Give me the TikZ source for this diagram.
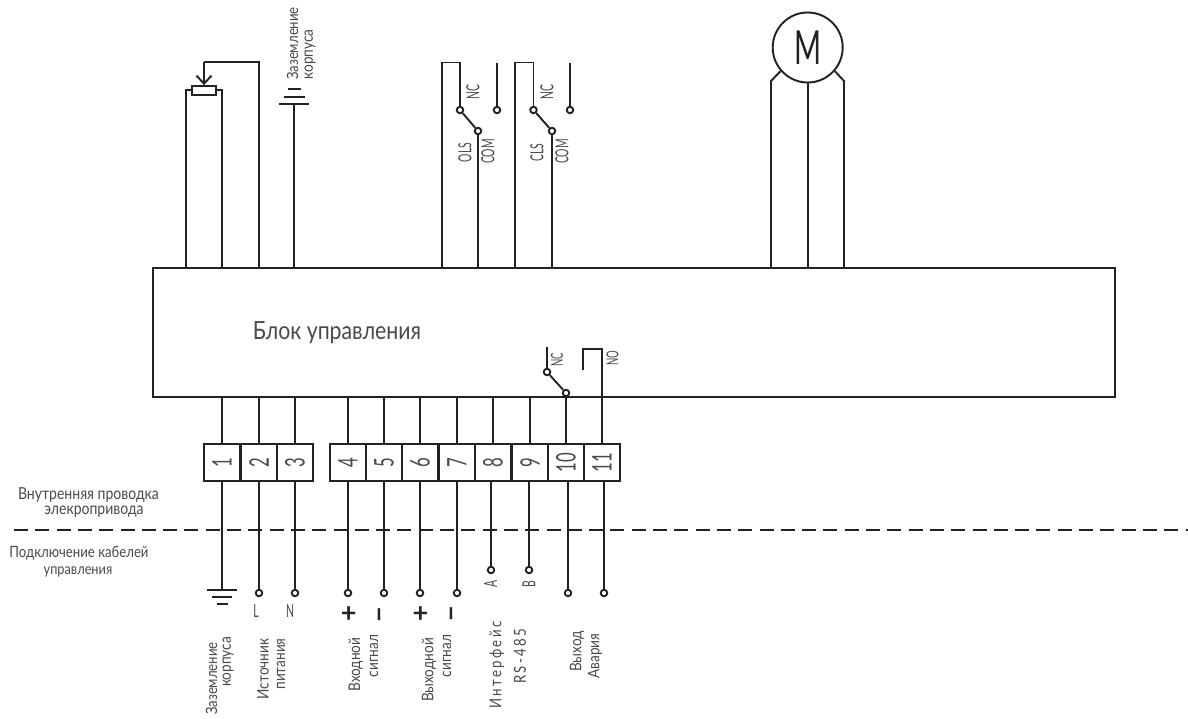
\documentclass[tikz,border=0pt]{standalone}
\usepackage{fontspec}
\setmainfont[FakeStretch=0.85]{Lato}
\newfontfamily\numfont[FakeStretch=0.62]{Lato}
\newfontfamily\tallfont[FakeStretch=0.58]{Lato}
\newfontfamily\spacedfont[FakeStretch=0.8,LetterSpace=14]{Lato}
\newfontfamily\signfont{Lato}
\usetikzlibrary{arrows.meta}
\definecolor{ln}{HTML}{222222}
\definecolor{txt}{HTML}{4A4A4A}
\tikzset{
  wire/.style={draw=ln,line width=1.9pt,line join=miter},
  lbl/.style={inner sep=0pt,text=txt,font=\fontsize{16}{18}\selectfont},
  rot/.style={lbl,rotate=90},
  tallrot/.style={rot,font=\tallfont\fontsize{18}{20}\selectfont},
  term/.style={draw=ln,line width=1.9pt,minimum width=36.4pt,minimum height=37pt,inner sep=0pt},
  pin/.style={circle,draw=ln,line width=1.9pt,fill=white,minimum size=6.5pt,inner sep=0pt},
  num/.style={rotate=90,inner sep=0pt},
  sign/.style={inner sep=0pt,text=ln,font=\signfont\bfseries\fontsize{27}{28}\selectfont}
}
\begin{document}
\begin{tikzpicture}[x=1pt,y=-1pt]
\useasboundingbox[fill=white] (0,0) rectangle (1188,718);
% control block
\node[wire,minimum width=962pt,minimum height=129pt,inner sep=0pt] (block) at (634,332.5) {};
\node[lbl,font=\fontsize{25}{27}\selectfont] (blocktext) at (337,333) {Блок управления};
% terminals
\foreach \n/\x/\d in {1/222/1,2/259/2,3/295/3,4/348/4,5/384/5,6/420/6,7/457/7,8/493/8,9/530/9,10/566/10,11/602/11}{
  \node[term] (t\n) at (\x,462.5) {};
  \node[num,text=txt,font=\numfont\fontsize{27}{28}\selectfont] (n\n) at (t\n.center) {\d};
  \draw[wire] (t\n.north) -- (t\n.north |- block.south);
}
% potentiometer
\node[wire,minimum width=36pt,minimum height=178pt,inner sep=0pt] (pot) at (204,179) {};
\node[wire,fill=white,minimum width=24pt,minimum height=9pt,inner sep=0pt] (slider) at (204,90.5) {};
\coordinate (pottop) at (259,62);
\draw[wire] (pottop |- block.north) -- (pottop) -- (pottop -| slider.north);
\draw[wire,-{Straight Barb[length=8pt,width=15pt,line width=1.9pt]}] (pottop -| slider.north) -- (slider.north);
% housing earth (top)
\coordinate (e1) at (294,104);
\draw[wire] (e1 |- block.north) -- (e1);
\draw[wire] ([xshift=-15pt]e1) -- ([xshift=15pt]e1);
\draw[wire] ([xshift=-10.5pt,yshift=7pt]e1) -- ([xshift=10.5pt,yshift=7pt]e1);
\draw[wire] ([xshift=-6.5pt,yshift=15pt]e1) -- ([xshift=6.5pt,yshift=15pt]e1);
\node[rot,font=\fontsize{15.5}{17}\selectfont] (z1) at (292.5,43.5) {Заземление};
\node[rot] (z2) at (310,54.5) {корпуса};
% OLS switch
\node[pin] (s1a) at (460,110) {};
\node[pin] (s1b) at (478,131) {};
\node[pin] (s1c) at (497,110) {};
\coordinate (s1l) at (442,62.5);
\coordinate (s1t) at (497,63);
\draw[wire] (s1l |- block.north) -- (s1l) -- (s1l -| s1a) -- (s1a);
\draw[wire] (s1a) -- (s1b);
\draw[wire] (s1b) -- (s1b |- block.north);
\draw[wire] (s1c) -- (s1t);
\node[tallrot] (nc1) at (473,92) {NC};
\node[tallrot] (ols) at (465,152.5) {OLS};
\node[tallrot] (com1) at (488,151.5) {COM};
% CLS switch
\node[pin] (s2a) at (533.5,110) {};
\node[pin] (s2b) at (552,131) {};
\node[pin] (s2c) at (570,110) {};
\coordinate (s2l) at (515,62.5);
\coordinate (s2t) at (570,63);
\draw[wire] (s2l |- block.north) -- (s2l) -- (s2l -| s2a) -- (s2a);
\draw[wire] (s2a) -- (s2b);
\draw[wire] (s2b) -- (s2b |- block.north);
\draw[wire] (s2c) -- (s2t);
\node[tallrot] (nc2) at (547,92) {NC};
\node[tallrot] (cls) at (537,152.5) {CLS};
\node[tallrot] (com2) at (562,151.5) {COM};
% motor
\node[circle,draw=ln,line width=1.9pt,minimum size=70pt,inner sep=0pt,text=ln,font=\numfont\fontsize{47}{48}\selectfont] (motor) at (807.7,47.5) {M};
\coordinate (ml) at (771,81);
\coordinate (mr) at (844,81);
\draw[wire] (motor.221) -- (ml) -- (ml |- block.north);
\draw[wire] (motor.319) -- (mr) -- (mr |- block.north);
\draw[wire] (motor.south) -- (motor.south |- block.north);
% alarm relay
\node[pin] (r1) at (547,372) {};
\node[pin] (r2) at (566,393) {};
\coordinate (rt) at (547,347);
\coordinate (no1) at (583,370);
\coordinate (no2) at (583,349);
\draw[wire] (rt) -- (r1);
\draw[wire] (r1) -- (r2);
\draw[wire] (no1) -- (no2) -- (no2 -| t11.north) -- (t11.north |- block.south);
\node[tallrot,font=\tallfont\fontsize{16.5}{18}\selectfont] (ncr) at (557,359.5) {NC};
\node[tallrot,font=\tallfont\fontsize{16.5}{18}\selectfont] (nor) at (612.5,358.5) {NO};
% separator
\coordinate (d1) at (14,530);
\coordinate (d2) at (1188,530);
\draw[draw=ln,line width=1.9pt,dash pattern=on 14pt off 7.3pt] (d1) -- (d2);
\node[lbl,font=\fontsize{16.5}{18}\selectfont] (i1) at (88.5,495.5) {Внутренняя проводка};
\node[lbl,font=\fontsize{16.5}{18}\selectfont] (i2) at (94,511.5) {элекропривода};
\node[lbl,font=\fontsize{15.5}{17}\selectfont] (o1) at (79,553.5) {Подключение кабелей};
\node[lbl,font=\fontsize{15}{17}\selectfont] (o2) at (78,571.5) {управления};
% lower pins
\foreach \n/\x/\y in {2/259/593,3/295/593,4/348/593,5/384/593,6/420/593,7/457/593,8/491/570,9/529/570,10/568/593,11/604/593}{
  \node[pin] (p\n) at (\x,\y) {};
  \draw[wire] (t\n.south -| p\n) -- (p\n);
}
% lower earth
\coordinate (g) at (222,590);
\draw[wire] (t1.south) -- (g);
\draw[wire] ([xshift=-15pt]g) -- ([xshift=15pt]g);
\draw[wire] ([xshift=-10pt,yshift=-7pt]g) -- ([xshift=10pt,yshift=-7pt]g);
\draw[wire] ([xshift=-5.5pt,yshift=-14pt]g) -- ([xshift=5.5pt,yshift=-14pt]g);
% pin labels
\node[lbl,font=\tallfont\fontsize{18}{20}\selectfont] (ll) at (256,611.5) {L};
\node[lbl,font=\tallfont\fontsize{18}{20}\selectfont] (ln) at (290,611.5) {N};
\node[sign] (pl1) at (348.7,615) {+};
\node[sign,rotate=90] (mi1) at (383,614.5) {−};
\node[sign] (pl2) at (420.5,615) {+};
\node[sign,rotate=90] (mi2) at (455.7,613.5) {−};
\node[tallrot] (la) at (490.7,584) {A};
\node[tallrot] (lb) at (529,584) {B};
% lower rotated labels
\node[rot,font=\fontsize{15.5}{17}\selectfont] (b1) at (211.7,678.5) {Заземление};
\node[rot] (b2) at (228,662) {корпуса};
\node[rot] (b3) at (263,669) {Источник};
\node[rot] (b4) at (281,664) {питания};
\node[rot] (b5) at (355.7,664.5) {Входной};
\node[rot] (b6) at (374,656) {сигнал};
\node[rot] (b7) at (429,670) {Выходной};
\node[rot] (b8) at (447,656) {сигнал};
\node[rot,font=\spacedfont\fontsize{16.5}{18}\selectfont] (b9) at (497,665) {Интерфейс};
\node[rot,font=\spacedfont\fontsize{16.5}{18}\selectfont] (b10) at (520,656.5) {RS-485};
\node[rot] (b11) at (577,651.5) {Выход};
\node[rot] (b12) at (595,656) {Авария};
\end{tikzpicture}
\end{document}
